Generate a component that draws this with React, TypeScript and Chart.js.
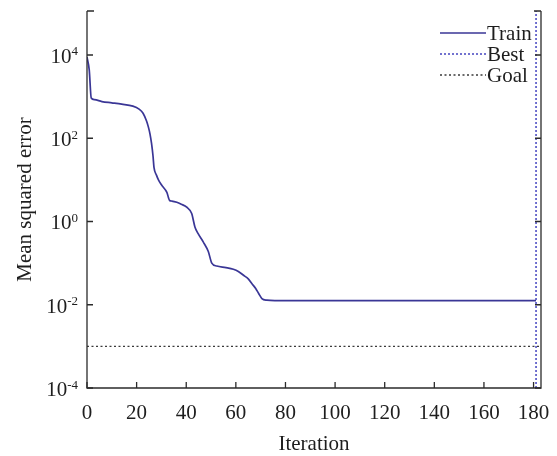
import React, { useEffect, useRef } from 'react';
import { Chart, registerables } from 'chart.js';

Chart.register(...registerables);

// ---- data ----
const trainIter = [0, 0.9, 1.7, 3, 6, 10, 14, 18.5, 21, 22.6, 24, 24.7, 25.4, 26, 26.6, 27, 28, 28.8, 30, 32.2, 33.3, 34.2, 36.2, 38, 40.2, 42.2, 43.5, 44.8, 46.9, 48.9, 50.3, 52.3, 56, 59, 61, 63.1, 65, 66.5, 68, 69.2, 70.5, 72.5, 76, 100, 140, 181];
const trainMse = [8900, 4400, 930, 850, 760, 710, 660, 590, 500, 400, 260, 190, 126, 76, 38, 20, 13, 10, 7.6, 5.0, 3.2, 3.1, 2.9, 2.6, 2.2, 1.55, 0.74, 0.51, 0.32, 0.19, 0.10, 0.085, 0.078, 0.071, 0.063, 0.051, 0.042, 0.032, 0.0245, 0.0186, 0.0141, 0.0129, 0.0126, 0.0125, 0.0125, 0.0125];
const BEST_EPOCH = 181;
const GOAL = 1e-3;
const X_MIN = 0;
const X_MAX = 183;
const Y_MIN = 1e-4;
const Y_MAX = 114000;
const xTicks = [0, 20, 40, 60, 80, 100, 120, 140, 160, 180];
const yTicks = [1e-4, 1e-2, 1, 1e2, 1e4];
const yTickExponents = ['-4', '-2', '0', '2', '4'];
const seriesLabels = ['Train', 'Best', 'Goal'];
const xTitle = 'Iteration';
const yTitle = 'Mean squared error';

// ---- styles ----
const FONT_FAMILY = '"Liberation Serif", "Times New Roman", serif';
const TEXT_COLOR = '#1e1e1e';
const AXIS_COLOR = '#2b2b2b';
const TRAIN_COLOR = '#3a3696';
const BEST_COLOR = '#5050c4';
const GOAL_COLOR = '#3a3a3a';

const framePlugin = {
  id: 'frame',
  afterDraw(chart: any) {
    const { ctx, chartArea, scales } = chart;
    const { left, right, top, bottom } = chartArea;
    const xs = scales.x;
    const ys = scales.y;
    ctx.save();
    ctx.strokeStyle = AXIS_COLOR;
    ctx.lineWidth = 1.3;
    ctx.lineCap = 'butt';
    // axes: left, bottom, right, top stubs
    ctx.beginPath();
    ctx.moveTo(left, top);
    ctx.lineTo(left, bottom);
    ctx.lineTo(right, bottom);
    ctx.lineTo(right, top);
    ctx.moveTo(left, top);
    ctx.lineTo(left + 7, top);
    ctx.moveTo(right, top);
    ctx.lineTo(right - 7, top);
    ctx.stroke();
    // inward ticks
    ctx.beginPath();
    const tl = 6;
    xs.ticks.forEach((t: any) => {
      const px = xs.getPixelForValue(t.value);
      ctx.moveTo(px, bottom);
      ctx.lineTo(px, bottom - tl);
    });
    ys.ticks.forEach((t: any) => {
      const py = ys.getPixelForValue(t.value);
      ctx.moveTo(left, py);
      ctx.lineTo(left + tl, py);
      ctx.moveTo(right, py);
      ctx.lineTo(right - tl, py);
    });
    ctx.stroke();

    // y tick labels 10^n
    ctx.fillStyle = TEXT_COLOR;
    ctx.textBaseline = 'alphabetic';
    ctx.textAlign = 'left';
    const baseFont = `21px ${FONT_FAMILY}`;
    const expFont = `13px ${FONT_FAMILY}`;
    ys.ticks.forEach((t: any) => {
      const py = ys.getPixelForValue(t.value);
      const idx = yTicks.indexOf(t.value);
      const exp = idx >= 0 ? yTickExponents[idx] : String(Math.round(Math.log10(t.value)));
      ctx.font = expFont;
      const we = ctx.measureText(exp).width;
      ctx.font = baseFont;
      const wb = ctx.measureText('10').width;
      const xEnd = left - 9;
      ctx.fillText('10', xEnd - we - wb, py + 8);
      ctx.font = expFont;
      ctx.fillText(exp, xEnd - we, py + 0.5);
    });

    // legend
    const legendRows = [33, 54, 75];
    const lineX0 = 440;
    const lineX1 = 486;
    chart.data.datasets.forEach((ds: any, i: number) => {
      const y = legendRows[i];
      ctx.save();
      ctx.strokeStyle = ds.borderColor;
      ctx.lineWidth = ds.borderWidth;
      ctx.setLineDash(ds.borderDash || []);
      ctx.beginPath();
      ctx.moveTo(lineX0, y);
      ctx.lineTo(lineX1, y);
      ctx.stroke();
      ctx.restore();
      ctx.font = baseFont;
      ctx.fillStyle = TEXT_COLOR;
      ctx.textBaseline = 'middle';
      ctx.fillText(ds.label, 487, y + 1);
    });
    ctx.restore();
  },
};

export default function App() {
  const canvasRef = useRef<HTMLCanvasElement | null>(null);

  useEffect(() => {
    const canvas = canvasRef.current;
    if (!canvas) return;
    const font = { family: FONT_FAMILY, size: 21 };
    const chart = new Chart(canvas, {
      type: 'line',
      data: {
        datasets: [
          {
            label: seriesLabels[0],
            data: trainIter.map((x, i) => ({ x, y: trainMse[i] })),
            borderColor: TRAIN_COLOR,
            borderWidth: 1.7,
            pointRadius: 0,
            cubicInterpolationMode: 'monotone',
            fill: false,
          },
          {
            label: seriesLabels[1],
            data: [
              { x: BEST_EPOCH, y: Y_MIN },
              { x: BEST_EPOCH, y: Y_MAX },
            ],
            borderColor: BEST_COLOR,
            borderWidth: 1.6,
            borderDash: [2, 2],
            pointRadius: 0,
            fill: false,
          },
          {
            label: seriesLabels[2],
            data: [
              { x: X_MIN, y: GOAL },
              { x: X_MAX, y: GOAL },
            ],
            borderColor: GOAL_COLOR,
            borderWidth: 1.4,
            borderDash: [2, 2.5],
            pointRadius: 0,
            fill: false,
          },
        ],
      },
      options: {
        responsive: false,
        animation: false,
        layout: { padding: { top: 11, right: 16, left: 0, bottom: 0 } },
        plugins: { legend: { display: false }, tooltip: { enabled: false } },
        scales: {
          x: {
            type: 'linear',
            min: X_MIN,
            max: X_MAX,
            afterBuildTicks: (s: any) => {
              s.ticks = xTicks.map((v) => ({ value: v }));
            },
            afterFit: (s: any) => {
              s.height = 68;
              s.paddingLeft = 0;
              s.paddingRight = 0;
            },
            grid: { display: false, drawTicks: false },
            border: { display: false },
            ticks: {
              font,
              color: TEXT_COLOR,
              padding: 13,
              maxRotation: 0,
              autoSkip: false,
              callback: (v: any) => String(v),
            },
            title: {
              display: true,
              text: xTitle,
              font: { ...font, lineHeight: 1.1 },
              color: TEXT_COLOR,
              padding: { top: 0, bottom: 0 },
            },
          },
          y: {
            type: 'logarithmic',
            min: Y_MIN,
            max: Y_MAX,
            afterBuildTicks: (s: any) => {
              s.ticks = yTicks.map((v) => ({ value: v }));
            },
            afterFit: (s: any) => {
              s.width = 87;
              s.paddingTop = 0;
              s.paddingBottom = 0;
            },
            grid: { display: false, drawTicks: false },
            border: { display: false },
            ticks: { display: false },
            title: {
              display: true,
              text: yTitle,
              font: { ...font, lineHeight: 1.2 },
              color: TEXT_COLOR,
              padding: { top: 13, bottom: 0 },
            },
          },
        },
      } as any,
      plugins: [framePlugin],
    });
    return () => chart.destroy();
  }, []);

  return (
    <div style={{ position: 'fixed', left: 0, top: 0, width: 557, height: 456, background: '#ffffff' }}>
      <canvas ref={canvasRef} width={557} height={456} style={{ display: 'block' }} />
    </div>
  );
}
